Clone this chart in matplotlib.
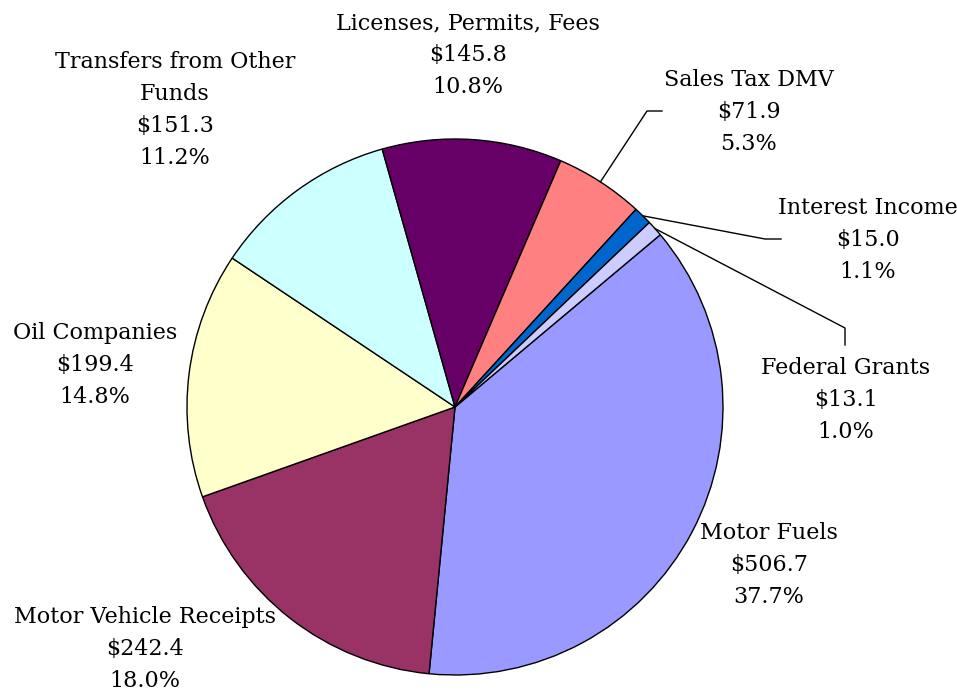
import numpy as np
import matplotlib.pyplot as plt

W, H = 957, 696
CX, CY, R = 455, 407, 268  # pie centre and radius in pixels

labels = ['Motor Fuels', 'Motor Vehicle Receipts', 'Oil Companies',
          'Transfers from Other\nFunds', 'Licenses, Permits, Fees',
          'Sales Tax DMV', 'Interest Income', 'Federal Grants']
values = [506.7, 242.4, 199.4, 151.3, 145.8, 71.9, 15.0, 13.1]
percents = [37.7, 18.0, 14.8, 11.2, 10.8, 5.3, 1.1, 1.0]
colors = ['#9999FF', '#993366', '#FFFFCC', '#CCFFFF', '#660066',
          '#FF8080', '#0066CC', '#CCCCFF']

# label block centres (pixels)
label_pos = [(769, 565), (145, 649), (95, 365), (175, 110), (468, 55),
             (749, 112), (868, 240), (846, 400)]
# leader elbows (pixels) for the small slices
leaders = {5: [(647, 111), (662, 111)],
           6: [(765, 239), (781, 239)],
           7: [(845, 328), (845, 345)]}

fig = plt.figure(figsize=(W / 100, H / 100), dpi=100)
ax = fig.add_axes([(CX - R) / W, (H - CY - R) / H, 2 * R / W, 2 * R / H])
wedges, _ = ax.pie(values, colors=colors, startangle=40, counterclock=False,
                   radius=1, wedgeprops=dict(edgecolor='black', linewidth=1))
ax.set_xlim(-1, 1)
ax.set_ylim(-1, 1)
ax.set_aspect('equal')
ax.axis('off')

def to_data(p):
    return (p[0] - CX) / R, (CY - p[1]) / R

for i, (lab, v, pc) in enumerate(zip(labels, values, percents)):
    px, py = label_pos[i]
    fig.text(px / W, 1 - py / H, '%s\n$%.1f\n%.1f%%' % (lab, v, pc),
             ha='center', va='center', family='DejaVu Serif', fontsize=16,
             linespacing=1.58)
    if i in leaders:
        w = wedges[i]
        a = np.deg2rad((w.theta1 + w.theta2) / 2)
        pts = [(np.cos(a), np.sin(a))] + [to_data(p) for p in leaders[i]]
        xs, ys = zip(*pts)
        ax.plot(xs, ys, color='black', linewidth=1, clip_on=False)

fig.savefig('out.png', dpi=100)
